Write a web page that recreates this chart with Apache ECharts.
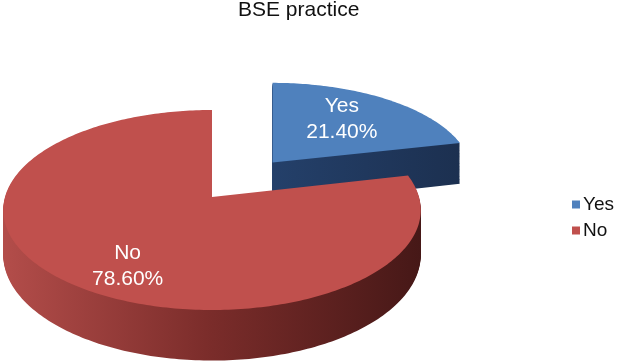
<!DOCTYPE html>
<html>
<head>
<meta charset="utf-8">
<script src="https://cdn.jsdelivr.net/npm/echarts@6/dist/echarts.min.js"></script>
<style>
  html, body { margin: 0; padding: 0; background: #fff; }
  #chart { width: 620px; height: 362px; }
</style>
</head>
<body>
<div id="chart"></div>
<script>
// ---- data ----
const titleText = 'BSE practice';
const categories = ['Yes', 'No'];
const values = [21.4, 78.6];

// ---- styles ----
const FONT = 'Liberation Sans, Arial, sans-serif';
const TOP_COLORS = ['#4f81bd', '#c0504d'];
const SIDE_GRADIENTS = [
  ['#24406a', '#1c3050'],
  ['#b34d4a', '#7a2c2a', '#461817']
];
const EXPLODE = [0.47, 0];     // explosion distance (fraction of radius)
const GEOM = { cx: 212, cy: 197, rx: 207, ry: 98.3, p: 0.13, h: 44 };
const LABEL_R = 0.7, LABEL_SHIFT = 6, LABEL_DY = 6;

const total = values.reduce((a, b) => a + b, 0);

function renderItem(params, api) {
  const i = params.dataIndex;
  const v = api.value(0);
  let cum = 0;
  for (let j = 0; j < i; j++) cum += values[j];
  const a0 = 90 - cum / total * 360;
  const a1 = 90 - (cum + v) / total * 360;
  const midDeg = (a0 + a1) / 2;
  const mid = midDeg * Math.PI / 180;
  const ox = EXPLODE[i] * Math.cos(mid), oz = EXPLODE[i] * Math.sin(mid);
  const vx = GEOM.cx + GEOM.rx * ox;

  // perspective projection, horizontal scaling relative to the slice's own apex
  function proj(X, Z, dy) {
    const k = 1 + GEOM.p * Z;
    return [vx + GEOM.rx * (X - ox) / k, GEOM.cy - GEOM.ry * Z / k + (dy || 0) / k];
  }

  function shapePoints(dy) {
    const pts = [proj(ox, oz, dy)];
    const n = Math.max(2, Math.ceil(Math.abs(a0 - a1)));
    for (let s = 0; s <= n; s++) {
      const t = (a0 + (a1 - a0) * s / n) * Math.PI / 180;
      pts.push(proj(ox + Math.cos(t), oz + Math.sin(t), dy));
    }
    return pts;
  }

  const stops = SIDE_GRADIENTS[i].map((c, k, arr) => ({ offset: arr.length === 1 ? 0 : k / (arr.length - 1), color: c }));
  const sideFill = { type: 'linear', x: 0, y: 0, x2: 1, y2: 0, colorStops: stops };

  const children = [];
  const steps = Math.round(GEOM.h);
  for (let k = steps; k >= 1; k--) {
    children.push({
      type: 'polygon',
      shape: { points: shapePoints(GEOM.h * k / steps) },
      style: { fill: sideFill },
      silent: true
    });
  }
  children.push({
    type: 'polygon',
    shape: { points: shapePoints(0) },
    style: { fill: TOP_COLORS[i] }
  });
  const lt = (midDeg + LABEL_SHIFT) * Math.PI / 180;
  const lp = proj(ox + LABEL_R * Math.cos(lt), oz + LABEL_R * Math.sin(lt), 0);
  children.push({
    type: 'text',
    x: lp[0], y: lp[1] + LABEL_DY,
    style: {
      text: categories[i] + '\n' + v.toFixed(2) + '%',
      fill: '#ffffff',
      font: '21px ' + FONT,
      lineHeight: 26,
      align: 'center',
      verticalAlign: 'middle'
    },
    silent: true
  });
  return { type: 'group', children: children };
}

const chart = echarts.init(document.getElementById('chart'), null, { renderer: 'canvas' });
chart.setOption({
  animation: false,
  color: TOP_COLORS,
  title: {
    text: titleText,
    left: 238,
    top: 0,
    padding: 0,
    textStyle: { fontFamily: FONT, fontSize: 21, fontWeight: 'normal', color: '#111' }
  },
  legend: {
    orient: 'vertical',
    left: 567,
    top: 190,
    icon: 'rect',
    itemWidth: 8,
    itemHeight: 8,
    itemGap: 7,
    data: categories,
    textStyle: { fontFamily: FONT, fontSize: 19, color: '#111', padding: [0, 0, 0, -2] }
  },
  series: [
    {
      type: 'custom',
      name: 'BSE practice',
      coordinateSystem: 'none',
      renderItem: renderItem,
      data: values.map((v, i) => ({ name: categories[i], value: [v] }))
    },
    {
      type: 'pie',
      name: 'legend',
      radius: [0, 0],
      center: [-100, -100],
      label: { show: false },
      labelLine: { show: false },
      silent: true,
      data: values.map((v, i) => ({ name: categories[i], value: v }))
    }
  ]
});
</script>
</body>
</html>
